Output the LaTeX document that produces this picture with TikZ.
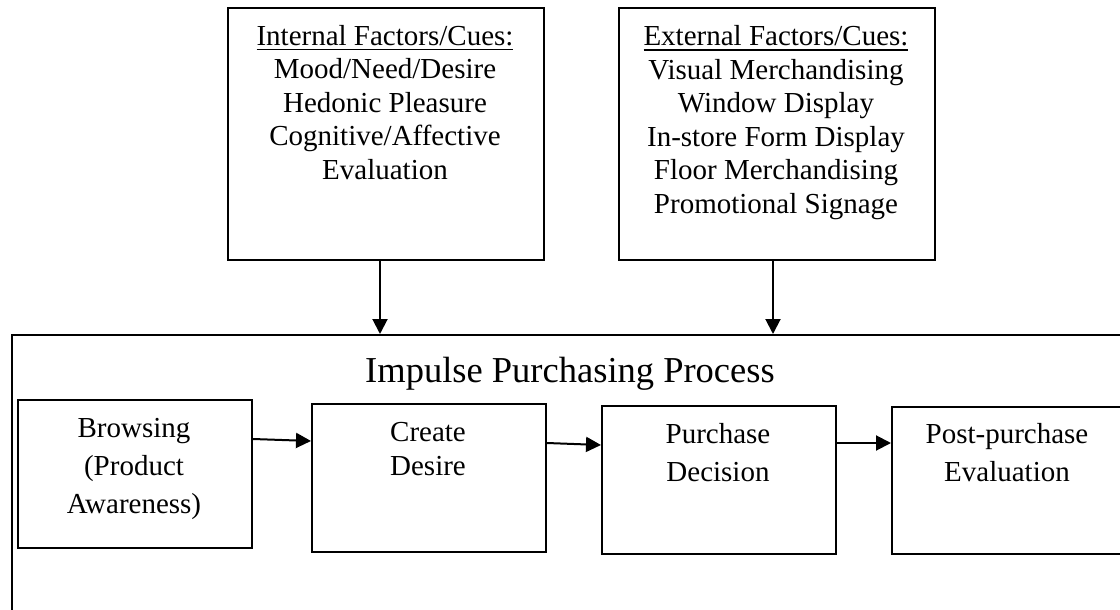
\documentclass[tikz,border=0pt]{standalone}
\usepackage{fontspec}
\setmainfont{Liberation Serif}
\usetikzlibrary{arrows.meta}
% heading with a slightly heavier underline
\newcommand\cuehead[1]{\setbox0=\hbox{#1}\rlap{\rule[-4.8pt]{\wd0}{1.4pt}}\box0}
\begin{document}
\begin{tikzpicture}[x=1pt,y=-1pt,
  box/.style={draw, line width=2pt, rectangle, inner sep=0pt, anchor=north west},
  arr/.style={line width=2pt, -{Triangle[length=15pt,width=15pt]}},
  cues/.style={anchor=base, inner sep=0pt, font=\fontsize{29}{33.5}\selectfont},
  stagetxt/.style={anchor=base, inner sep=0pt, font=\fontsize{29}{38}\selectfont},
  stagetight/.style={anchor=base, inner sep=0pt, font=\fontsize{29}{34}\selectfont},
  ]
\useasboundingbox (0,0) rectangle (1120,610);
\clip (0,0) rectangle (1120,610);

% factor boxes
\node[box, minimum width=316pt, minimum height=252pt] (int) at (227,7) {};
\node[box, minimum width=316pt, minimum height=252pt] (ext) at (618,7) {};
\node[cues] (inttxt) at (385,45.5) {\begin{tabular}[t]{@{}c@{}}\cuehead{Internal Factors/Cues:}\\Mood/Need/Desire\\Hedonic Pleasure\\Cognitive/Affective\\Evaluation\end{tabular}};
\node[cues] (exttxt) at (776,46) {\begin{tabular}[t]{@{}c@{}}\cuehead{External Factors/Cues:}\\Visual Merchandising\\Window Display\\In-store Form Display\\Floor Merchandising\\Promotional Signage\end{tabular}};

% process frame
\node[box, minimum width=1130pt, minimum height=300pt] (proc) at (11,334) {};
\node[anchor=base, inner sep=0pt, font=\fontsize{36.5}{44}\selectfont] (title) at (570,382) {Impulse Purchasing Process};

% stages
\node[box, minimum width=234pt, minimum height=148pt] (brow) at (17,399) {};
\node[box, minimum width=234pt, minimum height=148pt] (desire) at (311,403) {};
\node[box, minimum width=234pt, minimum height=148pt] (decis) at (601,405) {};
\node[box, minimum width=260pt, minimum height=147pt] (post) at (891,406) {};

\node[stagetxt] (browtxt) at (134,437) {\begin{tabular}[t]{@{}c@{}}Browsing\\(Product\\Awareness)\end{tabular}};
\node[stagetight] (desiretxt) at (428,441) {\begin{tabular}[t]{@{}c@{}}Create\\Desire\end{tabular}};
\node[stagetxt] (decistxt) at (718,443) {\begin{tabular}[t]{@{}c@{}}Purchase\\Decision\end{tabular}};
\node[stagetxt] (posttxt) at (1007,443) {\begin{tabular}[t]{@{}c@{}}Post-purchase\\Evaluation\end{tabular}};

% connectors
\draw[arr] ([xshift=-6pt]int.south) -- ([xshift=-6pt]int.south |- proc.north);
\draw[arr] ([xshift=-4pt]ext.south) -- ([xshift=-4pt]ext.south |- proc.north);
\draw[arr] ([yshift=-40pt]brow.north east) -- ([yshift=-38pt]desire.north west);
\draw[arr] ([yshift=-40pt]desire.north east) -- ([yshift=-40pt]decis.north west);
\draw[arr] ([yshift=-38pt]decis.north east) -- ([yshift=-37pt]post.north west);
\end{tikzpicture}
\end{document}
